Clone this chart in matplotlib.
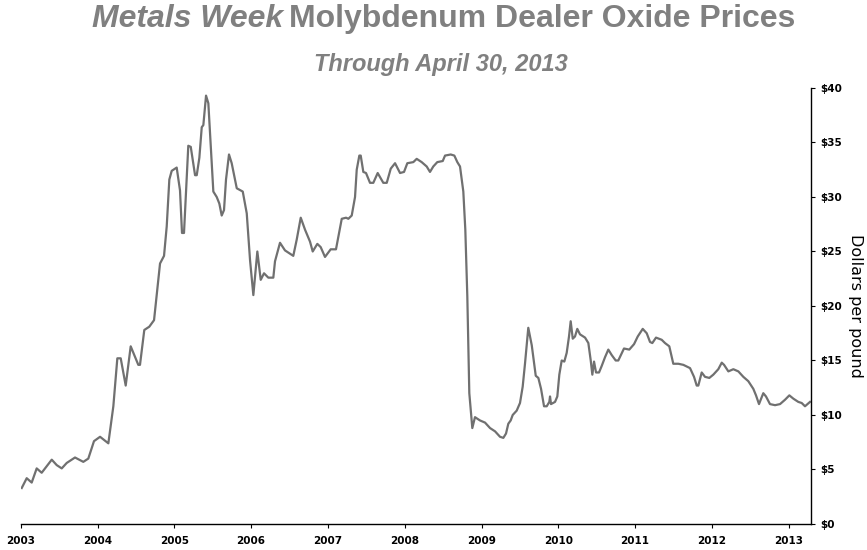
import matplotlib
matplotlib.use("Agg")
import matplotlib.pyplot as plt
from matplotlib.ticker import FuncFormatter

# decimal year, dollars per pound
years = [
    2003.013, 2003.078, 2003.143, 2003.208, 2003.273, 2003.404, 2003.469, 2003.534, 2003.599, 2003.707,
    2003.815, 2003.880, 2003.954, 2004.033, 2004.141, 2004.206, 2004.258, 2004.302, 2004.367, 2004.432,
    2004.531, 2004.553, 2004.609, 2004.674, 2004.736, 2004.814, 2004.866, 2004.901, 2004.935, 2004.966,
    2005.031, 2005.074, 2005.100, 2005.126, 2005.182, 2005.214, 2005.270, 2005.292, 2005.326, 2005.357,
    2005.378, 2005.413, 2005.443, 2005.508, 2005.552, 2005.586, 2005.617, 2005.647, 2005.673, 2005.712,
    2005.747, 2005.813, 2005.891, 2005.943, 2005.986, 2006.029, 2006.081, 2006.125, 2006.168, 2006.224,
    2006.289, 2006.311, 2006.376, 2006.441, 2006.507, 2006.549, 2006.594, 2006.646, 2006.702, 2006.767,
    2006.802, 2006.862, 2006.906, 2006.962, 2007.036, 2007.105, 2007.180, 2007.236, 2007.266, 2007.310,
    2007.353, 2007.375, 2007.409, 2007.427, 2007.461, 2007.496, 2007.548, 2007.591, 2007.648, 2007.721,
    2007.766, 2007.818, 2007.874, 2007.939, 2007.991, 2008.034, 2008.112, 2008.156, 2008.221, 2008.286,
    2008.329, 2008.372, 2008.424, 2008.495, 2008.525, 2008.599, 2008.646, 2008.685, 2008.720, 2008.763,
    2008.789, 2008.815, 2008.841, 2008.880, 2008.915, 2008.980, 2009.046, 2009.111, 2009.176, 2009.241,
    2009.284, 2009.319, 2009.349, 2009.380, 2009.406, 2009.458, 2009.501, 2009.536, 2009.566, 2009.609,
    2009.654, 2009.706, 2009.740, 2009.775, 2009.814, 2009.849, 2009.883, 2009.892, 2009.905, 2009.957,
    2009.987, 2010.013, 2010.044, 2010.078, 2010.109, 2010.139, 2010.161, 2010.188, 2010.217, 2010.247,
    2010.282, 2010.348, 2010.391, 2010.422, 2010.443, 2010.465, 2010.491, 2010.530, 2010.565, 2010.608,
    2010.651, 2010.695, 2010.747, 2010.781, 2010.855, 2010.924, 2010.986, 2011.034, 2011.099, 2011.151,
    2011.194, 2011.224, 2011.272, 2011.346, 2011.389, 2011.445, 2011.497, 2011.563, 2011.628, 2011.715,
    2011.767, 2011.802, 2011.823, 2011.867, 2011.910, 2011.966, 2012.018, 2012.083, 2012.128, 2012.158,
    2012.214, 2012.279, 2012.344, 2012.409, 2012.474, 2012.539, 2012.574, 2012.613, 2012.669, 2012.704,
    2012.756, 2012.822, 2012.887, 2012.952, 2013.008, 2013.060, 2013.125, 2013.169, 2013.212, 2013.277,
]
prices = [
    3.3, 4.2, 3.8, 5.1, 4.7, 5.9, 5.4, 5.1, 5.6, 6.1,
    5.7, 6.0, 7.6, 8.0, 7.4, 10.8, 15.2, 15.2, 12.7, 16.3,
    14.6, 14.6, 17.8, 18.1, 18.7, 23.9, 24.6, 27.3, 31.6, 32.4,
    32.7, 30.6, 26.7, 26.7, 34.7, 34.6, 32.0, 32.0, 33.6, 36.4,
    36.6, 39.3, 38.6, 30.5, 30.0, 29.4, 28.3, 28.8, 31.6, 33.9,
    33.1, 30.8, 30.5, 28.5, 24.2, 21.0, 25.0, 22.4, 23.0, 22.6,
    22.6, 24.1, 25.8, 25.1, 24.8, 24.6, 26.1, 28.1, 27.0, 25.9,
    25.0, 25.7, 25.4, 24.5, 25.2, 25.2, 28.0, 28.1, 28.0, 28.3,
    30.0, 32.5, 33.8, 33.8, 32.3, 32.2, 31.3, 31.3, 32.2, 31.3,
    31.3, 32.6, 33.1, 32.2, 32.3, 33.1, 33.2, 33.5, 33.2, 32.8,
    32.3, 32.8, 33.2, 33.3, 33.8, 33.9, 33.8, 33.2, 32.8, 30.5,
    27.0, 20.9, 12.0, 8.8, 9.8, 9.5, 9.3, 8.8, 8.5, 8.0,
    7.9, 8.3, 9.2, 9.5, 10.0, 10.4, 11.1, 12.6, 14.7, 18.0,
    16.4, 13.6, 13.4, 12.4, 10.8, 10.8, 11.2, 11.7, 11.0, 11.2,
    11.7, 13.7, 15.0, 14.9, 15.7, 17.2, 18.6, 17.0, 17.2, 17.9,
    17.4, 17.1, 16.6, 15.0, 13.7, 14.9, 13.9, 13.9, 14.5, 15.3,
    16.0, 15.5, 15.0, 15.0, 16.1, 16.0, 16.5, 17.2, 17.9, 17.5,
    16.7, 16.6, 17.1, 16.9, 16.6, 16.3, 14.7, 14.7, 14.6, 14.3,
    13.5, 12.7, 12.7, 13.9, 13.5, 13.4, 13.7, 14.2, 14.8, 14.6,
    14.0, 14.2, 14.0, 13.5, 13.1, 12.4, 11.8, 11.0, 12.0, 11.7,
    11.0, 10.9, 11.0, 11.4, 11.8, 11.5, 11.2, 11.1, 10.8, 11.2,
]
year_ticks = list(range(2003, 2014))
price_ticks = list(range(0, 45, 5))

title_gray = "#808080"

fig = plt.figure(figsize=(8.67, 5.5), dpi=100)
ax = fig.add_axes([0.0239, 0.0473, 0.9115, 0.7927])

ax.plot(years, prices, color="#707070", linewidth=1.6)

ax.set_xlim(2003.0, 2013.29)
ax.set_ylim(0, 40)
ax.set_xticks(year_ticks)
ax.set_xticklabels([str(y) for y in year_ticks])
ax.set_yticks(price_ticks)
ax.yaxis.set_major_formatter(FuncFormatter(lambda v, p: "$%d" % v))

ax.spines["top"].set_visible(False)
ax.spines["left"].set_visible(False)
for s in ("bottom", "right"):
    ax.spines[s].set_linewidth(1.0)
    ax.spines[s].set_color("black")

ax.yaxis.tick_right()
ax.yaxis.set_label_position("right")
ax.tick_params(axis="both", direction="out", length=3, width=0.8, colors="black")
ax.tick_params(axis="x", pad=6)
ax.tick_params(axis="y", pad=4)
for lab in ax.get_xticklabels() + ax.get_yticklabels():
    lab.set_fontweight("bold")
    lab.set_fontsize(7.5)

ax.set_ylabel("Dollars per pound", rotation=-90, fontsize=11.5, labelpad=15)

fam = ["Liberation Sans Narrow", "Liberation Sans", "DejaVu Sans"]
fig.text(0.326, 0.965, "Metals Week", fontsize=23, fontweight="bold", style="italic",
         color=title_gray, ha="right", va="center", family=fam)
fig.text(0.333, 0.965, "Molybdenum Dealer Oxide Prices", fontsize=23, fontweight="bold",
         color=title_gray, ha="left", va="center", family=fam)
fig.text(0.509, 0.882, "Through April 30, 2013", fontsize=17, fontweight="bold", style="italic",
         color=title_gray, ha="center", va="center", family=fam)

fig.savefig("out.png", dpi=100)
